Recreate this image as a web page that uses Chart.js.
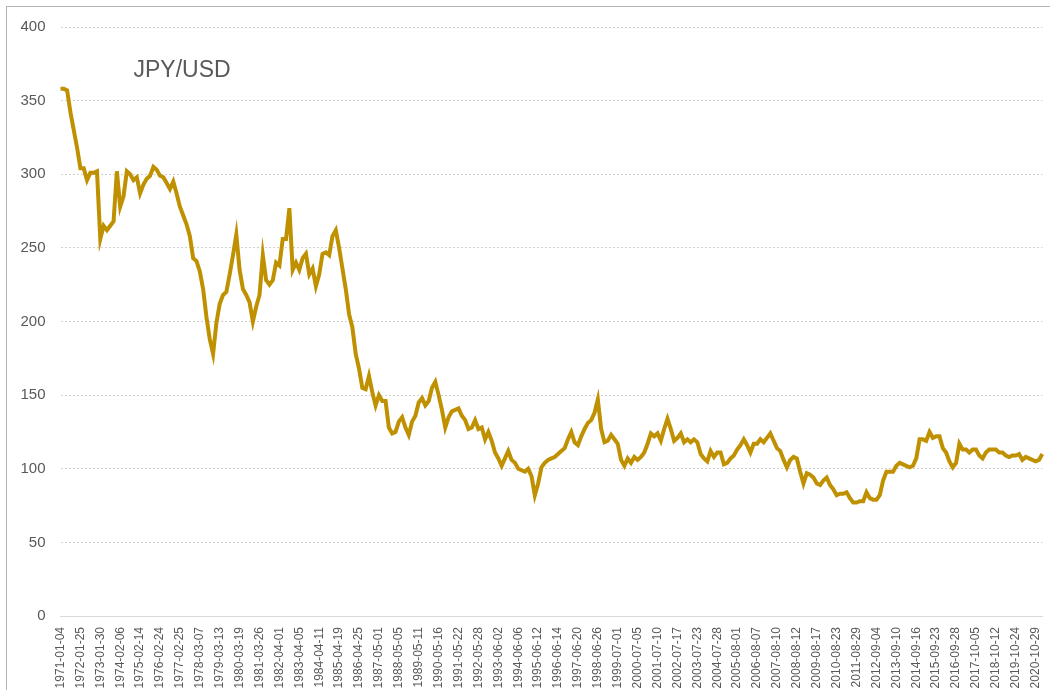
<!DOCTYPE html>
<html>
<head>
<meta charset="utf-8">
<title>JPY/USD</title>
<script src="https://cdn.jsdelivr.net/npm/chart.js@4"></script>
<style>
  html, body { margin: 0; padding: 0; background: #fff; }
  canvas { display: block; }
</style>
</head>
<body>
<canvas id="fxChart" width="1050" height="690"></canvas>
<script>
// one x label every 6 samples
const pointsPerTick = 6;

const tickDates = [
  "1971-01-04", "1972-01-25", "1973-01-30", "1974-02-06", "1975-02-14",
  "1976-02-24", "1977-02-25", "1978-03-07", "1979-03-13", "1980-03-19",
  "1981-03-26", "1982-04-01", "1983-04-05", "1984-04-11", "1985-04-19",
  "1986-04-25", "1987-05-01", "1988-05-05", "1989-05-11", "1990-05-16",
  "1991-05-22", "1992-05-28", "1993-06-02", "1994-06-06", "1995-06-12",
  "1996-06-14", "1997-06-20", "1998-06-26", "1999-07-01", "2000-07-05",
  "2001-07-10", "2002-07-17", "2003-07-23", "2004-07-28", "2005-08-01",
  "2006-08-07", "2007-08-10", "2008-08-12", "2009-08-17", "2010-08-23",
  "2011-08-29", "2012-09-04", "2013-09-10", "2014-09-16", "2015-09-23",
  "2016-09-28", "2017-10-05", "2018-10-12", "2019-10-24", "2020-10-29"
];

// yen per dollar, sampled roughly every two months
const jpyPerUsd = [
  358, 358, 357, 342, 330, 318, 304, 304, 296, 301, 301, 302,
  256, 265, 262, 265, 268, 302, 278, 285, 302, 300, 296, 298,
  287, 293, 297, 299, 305, 303, 299, 298, 294, 290, 295, 287,
  278, 272, 266, 258, 243, 241, 234, 222, 203, 188, 178, 199,
  212, 218, 220, 232, 245, 259, 235, 222, 218, 213, 200, 210,
  218, 245, 228, 225, 228, 240, 238, 256, 256, 277, 235, 240,
  235, 243, 246, 232, 236, 224, 232, 246, 247, 245, 258, 262,
  250, 236, 222, 205, 196, 178, 168, 155, 154, 163, 152, 143,
  150, 146, 146, 128, 124, 125, 132, 135, 128, 123, 132, 136,
  145, 148, 143, 146, 155, 159, 150, 140, 128, 135, 139, 140,
  141, 136, 133, 127, 128, 133, 127, 128, 120, 125, 119, 111,
  107, 102, 107, 112, 106, 104, 100, 99, 98, 100, 95, 82,
  90, 101, 104, 106, 107, 108, 110, 112, 114, 120, 125, 118,
  116, 122, 127, 131, 133, 138, 147, 127, 118, 119, 123, 120,
  117, 106, 102, 107, 104, 108, 106, 108, 111, 117, 124, 122,
  124, 119, 127, 134, 127, 119, 121, 124, 118, 120, 118, 120,
  118, 110, 107, 105, 112, 108, 111, 111, 103, 104, 107, 109,
  113, 116, 120, 116, 111, 117, 117, 120, 118, 121, 124, 119,
  114, 112, 106, 101, 106, 108, 107, 98, 90, 97, 96, 94,
  90, 89, 92, 94, 89, 86, 82, 83, 83, 84, 80, 77,
  77, 78, 78, 84, 80, 79, 79, 82, 92, 98, 98, 98,
  102, 104, 103, 102, 101, 102, 107, 120, 120, 119, 125, 121,
  122, 122, 114, 111, 105, 101, 104, 117, 113, 113, 111, 113,
  113, 109, 107, 111, 113, 113, 113, 111, 111, 109, 108, 109,
  109, 110, 106, 108, 107, 106, 105, 106, 110
];

const categoryLabels = jpyPerUsd.map((_, i) =>
  i % pointsPerTick === 0 && tickDates[i / pointsPerTick] ? tickDates[i / pointsPerTick] : ""
);

const textGray = "#595959";

// thin frame round the chart and the series name inside the plot
const framePlugin = {
  id: "frame",
  beforeDraw(chart) {
    const ctx = chart.ctx;
    ctx.save();
    ctx.strokeStyle = "#b4b4b4";
    ctx.lineWidth = 1;
    ctx.strokeRect(6.5, 6.5, 1200, 1200);
    ctx.restore();
  },
  afterDatasetsDraw(chart) {
    const { ctx, chartArea } = chart;
    ctx.save();
    ctx.fillStyle = textGray;
    ctx.font = "23px 'Liberation Sans', Arial, sans-serif";
    ctx.textBaseline = "alphabetic";
    ctx.fillText("JPY/USD", chartArea.left + 73, chartArea.top + 50);
    ctx.restore();
  }
};

new Chart(document.getElementById("fxChart").getContext("2d"), {
  type: "line",
  data: {
    labels: categoryLabels,
    datasets: [
      {
        label: "JPY/USD",
        data: jpyPerUsd,
        borderColor: "#bf9000",
        backgroundColor: "#bf9000",
        borderWidth: 4,
        pointRadius: 0,
        tension: 0,
        fill: false,
      },
    ],
  },
  options: {
    responsive: false,
    animation: false,
    devicePixelRatio: 1,
    layout: {
      padding: { top: 27, right: 7.7, bottom: 0, left: 0 },
    },
    plugins: {
      legend: { display: false },
      title: { display: false },
      tooltip: { enabled: false },
    },
    scales: {
      x: {
        type: "category",
        grid: { display: false, drawTicks: false },
        border: { display: true, color: "#d9d9d9", width: 1 },
        ticks: {
          autoSkip: false,
          minRotation: 90,
          maxRotation: 90,
          padding: 11,
          color: textGray,
          font: { family: "'Liberation Sans', Arial, sans-serif", size: 12 },
        },
        afterFit(scale) {
          scale.height = 74;
          scale.paddingLeft = 0;
          scale.paddingRight = 0;
        },
      },
      y: {
        min: 0,
        max: 400,
        grid: { color: "#d0d0d0", lineWidth: 1, drawTicks: false },
        border: { display: false, dash: [2, 2] },
        ticks: {
          stepSize: 50,
          padding: 15,
          color: textGray,
          font: { family: "'Liberation Sans', Arial, sans-serif", size: 15 },
        },
        afterFit(scale) {
          scale.width = 60.5;
        },
      },
    },
  },
  plugins: [framePlugin],
});
</script>
</body>
</html>
